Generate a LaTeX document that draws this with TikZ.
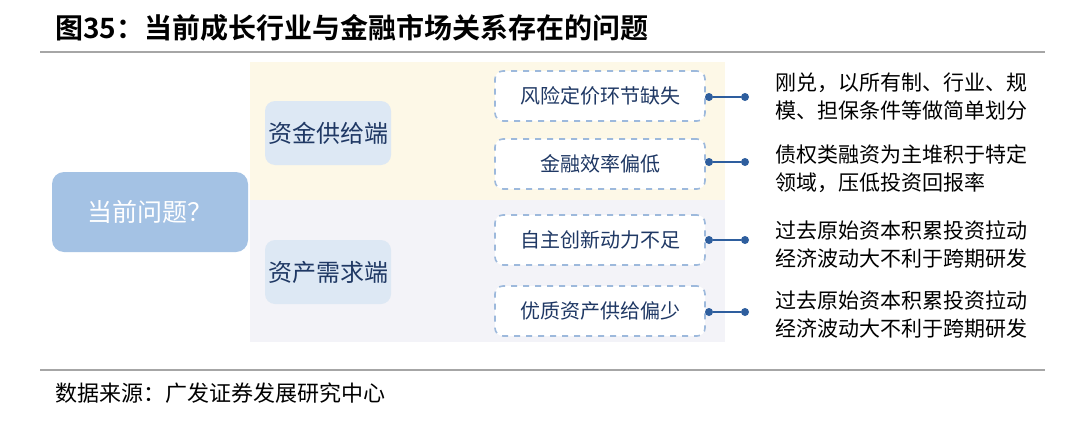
\documentclass[tikz,border=0pt]{standalone}
\usepackage{fontspec}
\setmainfont{Noto Sans CJK SC}
\newfontfamily\boldcjk{Noto Sans CJK SC Bold}
\definecolor{navy}{HTML}{1F3864}
\definecolor{dotblue}{HTML}{2E5E9E}
\definecolor{mainfill}{HTML}{A4C2E4}
\definecolor{subfill}{HTML}{DDE8F4}
\definecolor{dashc}{HTML}{9DB9DC}
\definecolor{cream}{HTML}{FDF8E7}
\definecolor{lav}{HTML}{F3F3F8}
\begin{document}
\begin{tikzpicture}[x=0.5pt,y=-0.5pt,
  mainbox/.style={draw=none,fill=mainfill,rounded corners=6pt,minimum width=98pt,minimum height=40pt,text=white,font=\fontsize{12.5}{14}\selectfont},
  subbox/.style={draw=none,fill=subfill,rounded corners=5pt,inner xsep=1pt,minimum width=63pt,minimum height=32pt,text=navy,font=\fontsize{12}{14}\selectfont},
  dbox/.style={draw=dashc,dashed,line width=0.8pt,rounded corners=4pt,fill=white,minimum width=105pt,minimum height=25pt,text=navy,font=\fontsize{10}{12}\selectfont},
  rtext/.style={anchor=west,align=left,font=\fontsize{10.5}{14}\selectfont,text=black},
  conn/.style={draw=dotblue,line width=1.2pt},
  dot/.style={circle,fill=dotblue,inner sep=0pt,minimum size=4pt}]
\useasboundingbox (0,0) rectangle (1080,423);
\fill[white] (0,0) rectangle (1080,423);
\node[anchor=west,inner sep=0pt,font=\boldcjk\fontsize{14}{16}\selectfont] (title) at (55,28) {图35：当前成长行业与金融市场关系存在的问题};
\draw[gray!70,line width=0.6pt] (40,52) -- (1045,52);
\fill[cream] (250,62) rectangle (725,200);
\fill[lav] (250,200) rectangle (725,342);
\node[mainbox] (main) at (150,212) {当前问题？};
\node[subbox] (s1) at (328,133) {资金供给端};
\node[subbox] (s2) at (328,272) {资产需求端};
\node[dbox] (d1) at (600,96) {风险定价环节缺失};
\node[dbox] (d2) at (600,164) {金融效率偏低};
\node[dbox] (d3) at (600,240) {自主创新动力不足};
\node[dbox] (d4) at (600,311) {优质资产供给偏少};
\foreach \i/\y in {1/97,2/162,3/240,4/312}{
  \node[dot] (a\i) at (709,\y) {};
  \node[dot] (b\i) at (745,\y) {};
  \draw[conn] (a\i) -- (b\i);
}
\node[rtext] (t1) at (768,97) {刚兑，以所有制、行业、规\\模、担保条件等做简单划分};
\node[rtext] (t2) at (768,169) {债权类融资为主堆积于特定\\领域，压低投资回报率};
\node[rtext] (t3) at (768,244) {过去原始资本积累投资拉动\\经济波动大不利于跨期研发};
\node[rtext] (t4) at (768,314) {过去原始资本积累投资拉动\\经济波动大不利于跨期研发};
\draw[gray!70,line width=0.6pt] (40,370) -- (1045,370);
\node[anchor=west,inner sep=0pt,font=\fontsize{11}{13}\selectfont] (src) at (55,393) {数据来源：广发证券发展研究中心};
\end{tikzpicture}
\end{document}
